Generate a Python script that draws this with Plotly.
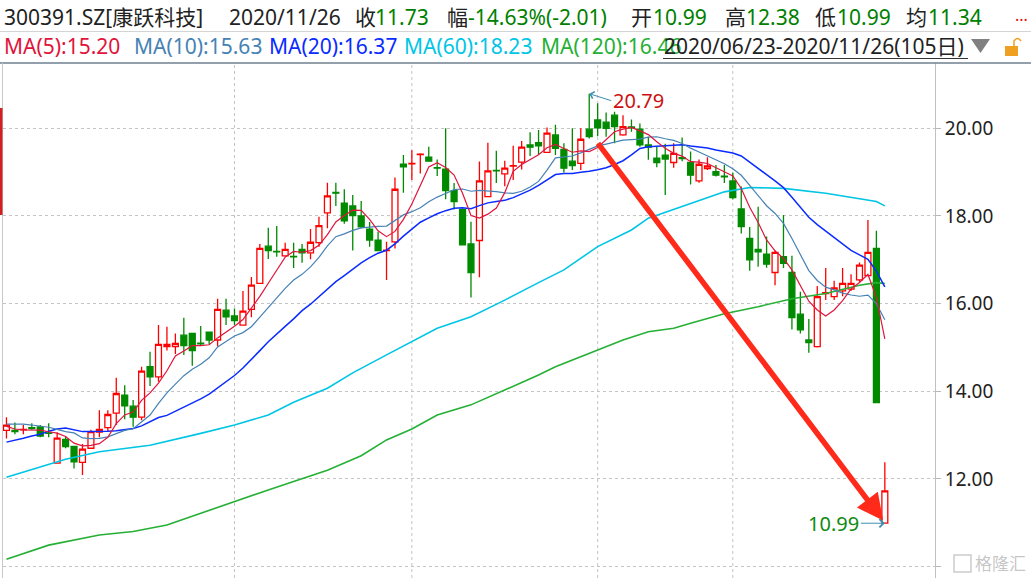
import plotly.graph_objects as go
import pandas as pd

# ---------------- data ----------------
holidays = ['2020-06-25', '2020-06-26', '2020-10-01', '2020-10-02',
            '2020-10-05', '2020-10-06', '2020-10-07', '2020-10-08']
dates = [d.strftime('%Y-%m-%d') for d in pd.bdate_range('2020-06-23', '2020-11-26')
         if d.strftime('%Y-%m-%d') not in holidays]

open_ = [13.11, 13.11, 13.12, 13.17, 13.19, 13.05, 12.36, 12.90, 12.74, 12.38,
         12.70, 13.07, 13.17, 13.50, 13.91, 13.66, 13.41, 14.56, 14.33, 15.02,
         15.02, 15.28, 15.32, 15.10, 15.35, 15.17, 15.85, 15.72, 15.51, 15.87,
         16.46, 17.31, 17.19, 17.09, 17.08, 17.24, 17.16, 17.39, 18.07, 18.54,
         18.29, 18.23, 18.00, 17.70, 17.45, 17.21, 17.41, 19.18, 19.19, 19.40,
         19.34, 19.10, 19.07, 18.58, 18.15, 17.36, 17.44, 18.44, 19.04, 18.96,
         19.14, 19.23, 19.62, 19.67, 19.45, 19.85, 19.52, 19.25, 19.20, 19.98,
         20.19, 20.14, 20.30, 19.85, 20.03, 19.98, 19.62, 19.32, 19.39, 19.22,
         19.33, 19.22, 18.80, 19.08, 19.01, 18.91, 18.80, 18.16, 17.49, 17.24,
         17.13, 16.71, 17.07, 16.71, 15.76, 15.17, 15.02, 16.23, 16.16, 16.29,
         16.33, 16.54, 16.64, 17.26, 10.99]
high = [13.41, 13.29, 13.23, 13.27, 13.23, 13.27, 13.06, 12.98, 12.74, 12.80,
        13.12, 13.57, 13.57, 14.31, 14.14, 13.80, 14.56, 14.90, 15.51, 15.47,
        15.32, 15.68, 15.32, 15.49, 15.35, 16.11, 16.11, 15.89, 16.29, 16.61,
        17.36, 17.73, 17.77, 17.39, 17.39, 17.36, 17.70, 17.98, 18.76, 18.76,
        18.61, 18.48, 18.34, 17.86, 17.64, 17.41, 18.88, 19.39, 19.50, 19.43,
        19.58, 19.29, 20.00, 18.75, 18.17, 17.87, 19.24, 19.67, 19.49, 19.26,
        19.60, 19.71, 19.91, 19.96, 20.02, 20.08, 19.66, 20.00, 20.00, 20.79,
        20.57, 20.36, 20.38, 20.30, 20.20, 20.11, 19.81, 19.58, 19.65, 19.66,
        19.79, 19.47, 19.29, 19.34, 19.16, 19.16, 18.99, 18.67, 17.75, 18.21,
        17.53, 17.22, 18.02, 17.09, 16.27, 15.65, 16.40, 16.81, 16.52, 16.81,
        16.67, 16.94, 17.91, 17.66, 12.38]
low = [12.92, 13.02, 13.02, 13.12, 12.95, 12.95, 12.36, 12.70, 12.24, 12.09,
       12.70, 12.95, 13.08, 13.23, 13.36, 13.19, 13.34, 14.12, 14.22, 14.93,
       14.85, 14.83, 14.58, 15.05, 15.07, 15.02, 15.51, 15.51, 15.51, 15.69,
       16.46, 17.02, 17.07, 17.07, 16.81, 16.93, 17.01, 17.30, 17.72, 18.23,
       17.82, 17.21, 17.72, 17.30, 17.21, 16.54, 17.26, 18.53, 18.82, 18.97,
       19.24, 18.91, 18.38, 18.15, 17.34, 16.14, 16.60, 18.44, 18.75, 18.68,
       18.82, 19.06, 19.37, 19.39, 19.45, 19.39, 18.99, 19.05, 19.05, 19.77,
       19.82, 19.81, 19.66, 19.83, 19.92, 19.58, 19.28, 19.11, 18.48, 19.10,
       19.25, 18.72, 18.76, 19.05, 18.90, 18.75, 18.38, 17.60, 16.75, 16.84,
       16.82, 16.42, 16.81, 15.41, 15.32, 14.88, 15.00, 16.08, 16.08, 16.17,
       16.29, 16.50, 16.64, 13.74, 10.99]
close = [13.23, 13.08, 13.13, 13.15, 12.98, 13.04, 12.93, 12.74, 12.39, 12.68,
         13.08, 13.13, 13.47, 13.95, 13.67, 13.41, 14.46, 14.33, 15.07, 15.07,
         15.09, 15.04, 14.93, 15.08, 15.17, 15.87, 15.70, 15.61, 15.83, 16.42,
         17.26, 17.21, 17.18, 17.24, 17.07, 17.16, 17.40, 17.78, 18.46, 18.52,
         17.89, 18.01, 17.75, 17.45, 17.21, 17.22, 18.61, 19.12, 19.20, 19.41,
         19.25, 19.09, 18.58, 18.33, 17.34, 16.71, 18.80, 19.03, 19.03, 19.09,
         19.15, 19.57, 19.57, 19.60, 19.89, 19.54, 19.09, 19.15, 19.75, 19.81,
         20.01, 20.00, 20.04, 20.04, 20.01, 19.62, 19.57, 19.22, 19.30, 19.43,
         19.31, 18.93, 19.18, 19.14, 18.93, 18.89, 18.42, 17.76, 17.00, 17.18,
         16.90, 17.17, 16.92, 15.68, 15.40, 15.11, 16.16, 16.25, 16.36, 16.46,
         16.46, 16.88, 17.17, 13.74, 11.73]

ma5_head = [13.20, 13.14, 13.12, 13.12]
ma10_head = [13.25, 13.25, 13.25, 13.23, 13.21, 13.18, 13.13, 13.08, 13.05]
ma20_head = [12.84, 12.88, 12.93, 12.98, 13.02, 13.09, 13.14, 13.16, 13.12, 13.08,
             13.08, 13.08, 13.09, 13.10, 13.12, 13.15, 13.21, 13.30, 13.40]

# long MAs (candle index, value)
ma60_idx = [0, 3, 7, 11, 17, 23, 27, 31, 34, 38, 41, 45, 48, 51, 55, 59, 63, 66,
            70, 74, 76, 80, 81, 85, 88, 92, 97, 101, 103, 104]
ma60_val = [12.04, 12.22, 12.45, 12.62, 12.77, 13.04, 13.23, 13.46, 13.75, 14.07,
            14.42, 14.83, 15.13, 15.44, 15.70, 16.08, 16.48, 16.77, 17.30, 17.68,
            17.95, 18.21, 18.29, 18.55, 18.65, 18.63, 18.52, 18.39, 18.33, 18.23]
ma120_idx = [0, 5, 11, 15, 19, 23, 27, 31, 34, 38, 42, 45, 48, 51, 55, 59, 63, 65,
             70, 73, 76, 79, 81, 85, 89, 93, 97, 101, 103, 104]
ma120_val = [10.17, 10.49, 10.72, 10.80, 10.95, 11.22, 11.48, 11.75, 11.94, 12.20,
             12.53, 12.89, 13.14, 13.46, 13.69, 14.03, 14.37, 14.56, 14.93, 15.17,
             15.36, 15.44, 15.55, 15.77, 15.93, 16.11, 16.23, 16.42, 16.48, 16.46]

y_ticks = [10, 12, 14, 16, 18, 20]
month_line_dates = ['2020-08-03', '2020-09-01', '2020-10-09', '2020-11-02']

peak_idx, peak_val = 69, 20.79
last_idx, last_low = 104, 10.99
arrow_from = (69.9, 19.69)
arrow_to = (103.8, 11.05)

# ---------------- derived ----------------
xi = list(range(len(dates)))
cs = pd.Series(close)
ma5 = ma5_head + cs.rolling(5).mean().iloc[4:].tolist()
ma10 = ma10_head + cs.rolling(10).mean().iloc[9:].tolist()
ma20 = ma20_head + cs.rolling(20).mean().iloc[19:].tolist()

# pixel geometry helpers
L, R, T, B = 3, 935, 63, 578
def px(x):
    return (x - L) / (R - L)
def py(y):
    return (B - y) / (B - T)

FONT = 'Noto Sans, Noto Sans CJK SC, sans-serif'
UP, DOWN = '#FF0000', '#008A00'
C5, C10, C20, C60, C120 = '#E0143C', '#4682B4', '#0A2BFF', '#00C5E5', '#25B035'

fig = go.Figure()
fig.add_trace(go.Candlestick(
    x=xi, open=open_, high=high, low=low, close=close,
    customdata=dates,
    increasing=dict(line=dict(color=UP, width=1.3), fillcolor='#FFFFFF'),
    decreasing=dict(line=dict(color=DOWN, width=1.3), fillcolor=DOWN),
    whiskerwidth=0, showlegend=False, name='K'))

fig.add_trace(go.Scatter(x=ma120_idx, y=ma120_val, mode='lines', line=dict(color=C120, width=1.6),
                         name='MA120', hoverinfo='skip'))
fig.add_trace(go.Scatter(x=ma60_idx, y=ma60_val, mode='lines', line=dict(color=C60, width=1.6),
                         name='MA60', hoverinfo='skip'))
for vals, col, w, nm in [(ma20, C20, 1.5, 'MA20'), (ma10, C10, 1.2, 'MA10'), (ma5, C5, 1.2, 'MA5')]:
    fig.add_trace(go.Scatter(x=xi, y=vals, mode='lines', line=dict(color=col, width=w),
                             name=nm, hoverinfo='skip'))

shapes = []
for d in month_line_dates:
    i = dates.index(d)
    shapes.append(dict(type='line', xref='x', yref='paper', x0=i, x1=i, y0=0, y1=1,
                       line=dict(color='#C4C4C4', width=1, dash='dot'), layer='below'))
# frame lines
shapes += [
    dict(type='line', xref='paper', yref='paper', x0=px(0), x1=px(1031), y0=py(31.5), y1=py(31.5),
         line=dict(color='#D4D4D4', width=1)),
    dict(type='line', xref='paper', yref='paper', x0=px(0), x1=px(1031), y0=py(63), y1=py(63),
         line=dict(color='#6F8090', width=1.5)),
    dict(type='line', xref='paper', yref='paper', x0=px(2.5), x1=px(2.5), y0=py(63), y1=py(578),
         line=dict(color='#C8C8C8', width=1)),
    dict(type='rect', xref='paper', yref='paper', x0=px(0), x1=px(2.5), y0=py(215), y1=py(108),
         fillcolor='#D02020', line=dict(width=0)),
    # underline of date range
    dict(type='line', xref='paper', yref='paper', x0=px(663), x1=px(968), y0=py(58.5), y1=py(58.5),
         line=dict(color='#333333', width=1)),
    # drop-down triangle
    dict(type='path', xref='paper', yref='paper',
         path=f'M {px(971)} {py(39)} L {px(990)} {py(39)} L {px(980.5)} {py(53)} Z',
         fillcolor='#808080', line=dict(width=0)),
    # lock icon
    dict(type='rect', xref='paper', yref='paper', x0=px(1005), x1=px(1018), y0=py(56), y1=py(46),
         fillcolor='#F0A020', line=dict(width=0)),
    dict(type='path', xref='paper', yref='paper',
         path=f'M {px(1014)} {py(46)} L {px(1014)} {py(41)} Q {px(1017.5)} {py(36)} {px(1021)} {py(41)}',
         line=dict(color='#F0A020', width=1.5)),
    # watermark logo box
    dict(type='rect', xref='paper', yref='paper', x0=px(954), x1=px(971), y0=py(572), y1=py(555),
         line=dict(color='rgba(170,170,170,0.6)', width=1.5)),
]

ann = []
def txt(x, y, s, color='#222222', size=21):
    ann.append(dict(xref='paper', yref='paper', x=px(x), y=py(y), text=s, showarrow=False,
                    xanchor='left', yanchor='middle', font=dict(family=FONT, size=size, color=color)))

G = '#008000'
txt(2, 17, '300391.SZ[康跃科技]')
txt(227, 17, '2020/11/26')
txt(353, 17, '收')
txt(373, 17, '11.73', G)
txt(445, 17, '幅')
txt(466, 17, '-14.63%(-2.01)', G)
txt(629, 17, '开')
txt(651, 17, '10.99', G)
txt(723, 17, '高')
txt(744, 17, '12.38', G)
txt(813, 17, '低')
txt(835, 17, '10.99', G)
txt(904, 17, '均')
txt(926, 17, '11.34', G)
txt(1013, 15, '...', '#E01010', 16)

txt(2, 46, 'MA(5):15.20', C5)
txt(132, 46, 'MA(10):15.63', C10)
txt(267, 46, 'MA(20):16.37', C20)
txt(402, 46, 'MA(60):18.23', C60)
txt(539, 46, 'MA(120):16.46', C120)
txt(662, 46, '2020/06/23-2020/11/26(105日)')
txt(973, 563, '格隆汇', 'rgba(160,160,160,0.6)', 17)

# peak / low labels with small pointer arrows
ann.append(dict(x=peak_idx, y=peak_val, xref='x', yref='y', text=f'{peak_val:.2f}',
                showarrow=True, ax=22, ay=7, arrowhead=4, arrowsize=1.4, arrowwidth=1,
                arrowcolor='#3A8FB0', xanchor='left', yanchor='middle',
                font=dict(family=FONT, size=20, color='#CC1010')))
ann.append(dict(x=last_idx, y=last_low, xref='x', yref='y', text=f'{last_low:.2f}',
                showarrow=True, ax=-24, ay=0, arrowhead=4, arrowsize=1.6, arrowwidth=1,
                arrowcolor='#3A8FB0', xanchor='right', yanchor='middle',
                font=dict(family=FONT, size=20, color='#108A10')))
# big red arrow
ann.append(dict(x=arrow_to[0], y=arrow_to[1], ax=arrow_from[0], ay=arrow_from[1],
                xref='x', yref='y', axref='x', ayref='y', text='', showarrow=True,
                arrowhead=2, arrowsize=0.95, arrowwidth=5.5, arrowcolor='#FF2A1A'))

fig.update_layout(
    width=1031, height=578,
    margin=dict(l=L, r=1031 - R, t=T, b=578 - B, pad=0),
    paper_bgcolor='white', plot_bgcolor='white', showlegend=False,
    boxgap=0.3, boxgroupgap=0,
    xaxis=dict(range=[-0.41, 109.94], visible=False, rangeslider=dict(visible=False), fixedrange=True),
    yaxis=dict(range=[9.74, 21.49], side='right', showline=True, linecolor='#C0C0C0', linewidth=1,
               tickvals=y_ticks, ticktext=[f'{v:.2f}' for v in y_ticks],
               ticks='outside', ticklen=5, tickcolor='#B8B8B8',
               showgrid=True, gridcolor='#C4C4C4', griddash='dot', gridwidth=1,
               zeroline=False, tickfont=dict(family=FONT, size=19, color='#222222')),
    shapes=shapes, annotations=ann,
)

fig.write_html('out.html', config={'displayModeBar': False},
               post_script="document.body.style.margin='0';document.body.style.overflow='hidden';")
